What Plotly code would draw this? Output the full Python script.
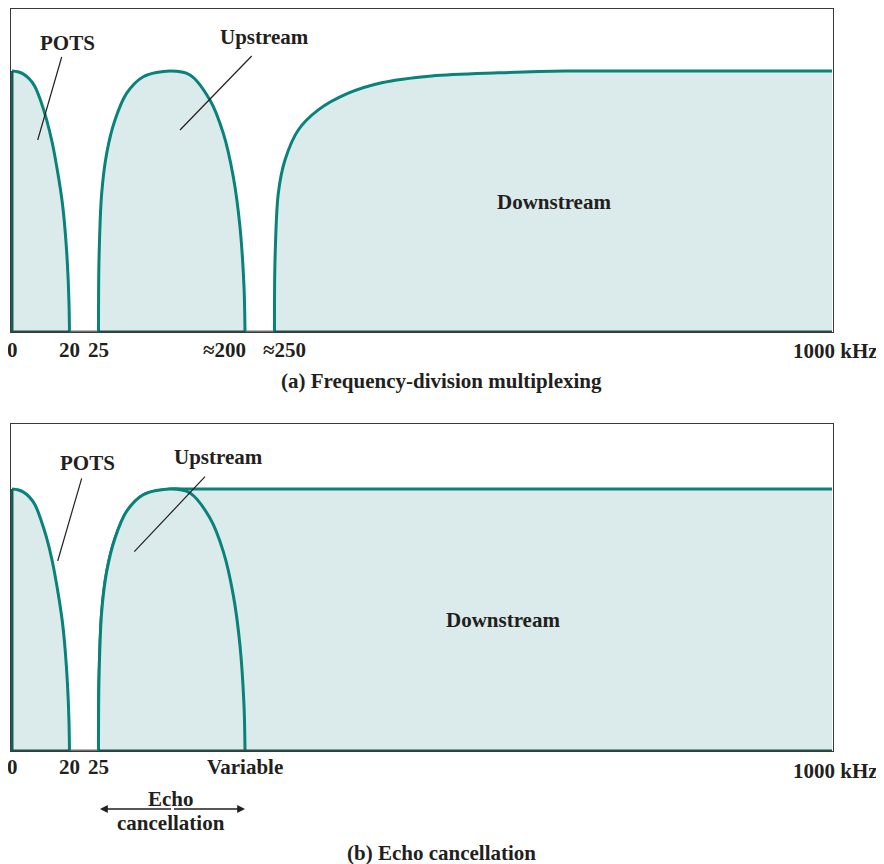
import numpy as np
import plotly.graph_objects as go

# ---------------- data (kHz, relative level: 0 = baseline, 1 = peak) ----------------
band_edges_khz = [0, 20, 25, 200, 250, 1000]

pots_khz = [0, 2, 4, 6, 8, 10, 12, 14, 16, 17.5, 18.5, 19.3, 19.8, 20]
pots_lvl = [1.0, 0.997, 0.988, 0.97, 0.94, 0.885, 0.815, 0.725, 0.605, 0.495, 0.385, 0.255, 0.12, 0]

up_khz = [25, 25.6, 28.8, 34.8, 44.7, 58.7, 78.5, 110.4, 134.3, 158.1, 174.1, 186.0, 194.0, 198.8, 200]
up_lvl = [0, 0.276, 0.531, 0.685, 0.812, 0.915, 0.978, 1.0, 0.985, 0.889, 0.761, 0.595, 0.403, 0.174, 0]

down_a_khz = [250, 250.7, 255.1, 264.1, 282.0, 308.9, 349.3, 394.2, 461.5, 551.1, 640.8, 700, 1000]
down_a_lvl = [0, 0.276, 0.531, 0.659, 0.774, 0.851, 0.915, 0.955, 0.981, 0.993, 1.0, 1.0, 1.0]

down_b_khz = [25, 25.6, 28.8, 34.8, 44.7, 58.7, 78.5, 110.4, 125, 1000]
down_b_lvl = [0, 0.276, 0.531, 0.685, 0.812, 0.915, 0.978, 1.0, 1.0, 1.0]

bands_a = [(0, 20), (25, 200), (250, 1000)]
bands_b = [(0, 20), (25, 1000)]

tick_text_a = ["0", "20", "25", "\u2248200", "\u2248250", "1000 kHz"]
tick_khz_a = [0, 20, 25, 200, 250, 1000]
tick_text_b = ["0", "20", "25", "Variable", "1000 kHz"]
tick_khz_b = [0, 20, 25, 200, 1000]

echo_khz = [25, 200]

# ---------------- layout constants (schematic, not to scale) ----------------
OFF = 8                      # page body margin in the browser
W, H = 884 - OFF, 864 - OFF
AXIS_BREAKS = [1.0, 58.5, 87.5, 234, 263.5, 821]   # display units of the band edges
X_RANGE = [0, 822]


def disp(khz):
    return np.interp(khz, band_edges_khz, AXIS_BREAKS)


def px(x):
    return (x - OFF) / W


def py(y):
    return min(1.0, 1 - (y - OFF) / H)


LINE = "#08827a"
FILL = "#dbeaea"
DARK = "#231f20"
FONT = dict(family="Liberation Serif, Times New Roman, serif", size=21, color=DARK, weight="bold")

fig = go.Figure()


def add_band(x, y, xa, ya):
    fig.add_trace(go.Scatter(
        x=disp(x), y=y, mode="lines", line=dict(color=LINE, width=3, shape="spline", smoothing=0.9),
        fill="tozeroy", fillcolor=FILL, xaxis=xa, yaxis=ya, hoverinfo="skip", showlegend=False))


for xa, ya, bands, curves in [
    ("x", "y", bands_a, [(pots_khz, pots_lvl), (up_khz, up_lvl), (down_a_khz, down_a_lvl)]),
    ("x2", "y2", bands_b, [(pots_khz, pots_lvl), (down_b_khz, down_b_lvl), (up_khz, up_lvl)]),
]:
    # gray baseline through the gaps
    fig.add_trace(go.Scatter(x=disp([0, 1000]), y=[0, 0], mode="lines",
                             line=dict(color="#6d6e71", width=3), xaxis=xa, yaxis=ya,
                             hoverinfo="skip", showlegend=False))
    for cx, cy in curves:
        add_band(cx, cy, xa, ya)
    # POTS left edge (vertical) and dark base under each band
    fig.add_trace(go.Scatter(x=disp([pots_khz[0], pots_khz[0]]), y=[0, pots_lvl[0]], mode="lines",
                             line=dict(color="#17605a", width=3), xaxis=xa, yaxis=ya,
                             hoverinfo="skip", showlegend=False))
    for b0, b1 in bands:
        fig.add_trace(go.Scatter(x=disp([b0, b1]), y=[0, 0], mode="lines",
                                 line=dict(color="#1d4f4b", width=3), xaxis=xa, yaxis=ya,
                                 hoverinfo="skip", showlegend=False))

ax_common = dict(range=X_RANGE, showgrid=False, zeroline=False, showticklabels=False, ticks="",
                 showline=True, linecolor="#3a3a3a", linewidth=1, mirror=True, layer="below traces",
                 fixedrange=True)
ay_common = dict(showgrid=False, zeroline=False, showticklabels=False, ticks="",
                 showline=True, linecolor="#3a3a3a", linewidth=1, mirror=True, layer="below traces",
                 fixedrange=True)

fig.update_layout(
    width=W, height=H, margin=dict(l=0, r=0, t=0, b=0),
    paper_bgcolor="white", plot_bgcolor="white",
    xaxis=dict(domain=[px(11), px(833)], anchor="y", **ax_common),
    yaxis=dict(domain=[py(332), py(8.5)], range=[0, 323.5 / 261], anchor="x", **ay_common),
    xaxis2=dict(domain=[px(11), px(833)], anchor="y2", **ax_common),
    yaxis2=dict(domain=[py(751), py(424)], range=[0, 327 / 262], anchor="x2", **ay_common),
)

ann = []
# tick labels (annotations so crowded labels can be nudged like the original)
shift_a = {"\u2248200": -21, "\u2248250": 10, "1000 kHz": 3}
for t, k in zip(tick_text_a, tick_khz_a):
    ann.append(dict(x=disp(k), xref="x", y=py(351 if t == "1000 kHz" else 350), yref="paper",
                    text=t, showarrow=False, xanchor="center", yanchor="middle",
                    xshift=shift_a.get(t, 0), font=FONT))
shift_b = {"1000 kHz": 3}
for t, k in zip(tick_text_b, tick_khz_b):
    ann.append(dict(x=disp(k), xref="x2", y=py(771 if t == "1000 kHz" else 767), yref="paper",
                    text=t, showarrow=False, xanchor="center", yanchor="middle",
                    xshift=shift_b.get(t, 0), font=FONT))

labels = [
    ("POTS", 67, 43), ("Upstream", 264, 37), ("Downstream", 554, 202),
    ("(a) Frequency-division multiplexing", 441, 381),
    ("POTS", 87.5, 463), ("Upstream", 218.5, 457), ("Downstream", 503, 620),
    ("Echo", 171, 799), ("cancellation", 171, 823),
    ("(b) Echo cancellation", 441, 853),
]
for t, x, y in labels:
    ann.append(dict(x=px(x), y=py(y), xref="paper", yref="paper", text=t, showarrow=False,
                    xanchor="center", yanchor="middle", font=FONT))

# echo-cancellation double arrow (25 kHz to the variable upstream edge)
e0, e1 = disp(echo_khz[0]) + 1.5, disp(echo_khz[1])
mid = (e0 + e1) / 2
for e in (e0, e1):
    ann.append(dict(x=e, xref="x2", y=py(809), yref="paper", ax=mid - e, ay=0,
                    axref="pixel", ayref="pixel", text="", showarrow=True,
                    arrowhead=2, arrowsize=1.2, arrowwidth=1.3, arrowcolor=DARK))
fig.update_layout(annotations=ann)

# leader lines
leaders = [((61.7, 57), (37.7, 140)), ((251.7, 56), (180, 130)),
           ((81.7, 478.3), (57.7, 561)), ((205, 476.7), (134.3, 551.7))]
shapes = []
for (x0, y0), (x1, y1) in leaders:
    shapes.append(dict(type="line", xref="paper", yref="paper", x0=px(x0), y0=py(y0),
                       x1=px(x1), y1=py(y1), line=dict(color=DARK, width=1.2)))
fig.update_layout(shapes=shapes)

fig.write_html("out.html")
